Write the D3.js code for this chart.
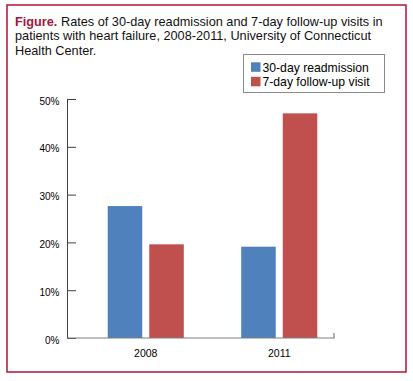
<!DOCTYPE html>
<html>
<head>
<meta charset="utf-8">
<script src="https://cdn.jsdelivr.net/npm/d3@7"></script>
<style>
  html, body { margin: 0; padding: 0; background: #fff; }
  svg { display: block; }
</style>
</head>
<body>
<svg id="chart" width="413" height="381"></svg>
<script>
// ---- data ----
const years = ["2008", "2011"];
const seriesNames = ["30-day readmission", "7-day follow-up visit"];
const readmission = [0.276, 0.191];
const followUp = [0.196, 0.470];
const yTicks = [0, 0.1, 0.2, 0.3, 0.4, 0.5];
const titleLead = "Figure.";
const titleLines = [
  " Rates of 30-day readmission and 7-day follow-up visits in",
  "patients with heart failure, 2008-2011, University of Connecticut",
  "Health Center."
];

// ---- layout ----
const colors = ["#4f81bd", "#c0504d"];
const axisLeft = 67, axisRight = 334, yTop = 99, yBottom = 338;

const svg = d3.select("#chart");

// frame
svg.append("rect")
  .attr("x", 7).attr("y", 5).attr("width", 399).attr("height", 367)
  .attr("fill", "#fff").attr("stroke", "#b3243f").attr("stroke-width", 1.6);

// title
const titleFont = "'Liberation Sans', Arial, sans-serif";
const title = svg.append("g").attr("font-family", titleFont).attr("fill", "#111");
const t1 = title.append("text").attr("x", 15).attr("y", 26).attr("font-size", 13);
t1.append("tspan").attr("fill", "#a3173d").attr("font-weight", 600).text(titleLead);
t1.append("tspan").text(titleLines[0]);
title.append("text").attr("x", 15).attr("y", 40.3).attr("font-size", 13).text(titleLines[1]);
title.append("text").attr("x", 15).attr("y", 54.6).attr("font-size", 13).text(titleLines[2]);
// fit font-size so first line spans the reference width
const measured = t1.node().getComputedTextLength();
const fs = Math.min(13, 13 * 368 / measured);
title.selectAll("text").attr("font-size", fs);

// scales
const x0 = d3.scaleBand().domain(years).range([79, 346]).paddingInner(0.43).paddingOuter(0.215);
const x1 = d3.scaleBand().domain(seriesNames).range([0, x0.bandwidth()]).paddingInner(0.169);
const y = d3.scaleLinear().domain([0, 0.5]).range([yBottom, yTop]);

const table = years.map((yr, i) => ({ year: yr, values: [readmission[i], followUp[i]] }));

// bars
const groups = svg.append("g").selectAll("g").data(table).join("g")
  .attr("transform", d => `translate(${x0(d.year)},0)`);
groups.selectAll("rect")
  .data(d => d.values.map((v, k) => ({ key: seriesNames[k], v, k })))
  .join("rect")
  .attr("x", d => x1(d.key))
  .attr("width", x1.bandwidth())
  .attr("y", d => y(d.v))
  .attr("height", d => y(0) - y(d.v))
  .attr("fill", d => colors[d.k]);

// y axis
const yAxis = d3.axisLeft(y).tickValues(yTicks).tickFormat(d3.format(".0%"))
  .tickSizeInner(-9).tickSizeOuter(0).tickPadding(7.5);
const gy = svg.append("g").attr("transform", `translate(${axisLeft},0)`).call(yAxis);
gy.select(".domain").attr("stroke", "#404040");
gy.selectAll(".tick line").attr("stroke", "#404040");
gy.selectAll(".tick text")
  .attr("font-family", "'Liberation Sans', Arial, sans-serif")
  .attr("font-size", 10).attr("fill", "#000").attr("dy", "0.5em");

// x axis line (gray, with small end tick)
svg.append("path")
  .attr("d", `M${axisLeft},${y(0)}H${axisRight}V${y(0) - 5}`)
  .attr("fill", "none").attr("stroke", "#7f7f7f").attr("stroke-width", 1.2);

// x labels
svg.append("g").selectAll("text").data(years).join("text")
  .attr("x", d => x0(d) + x0.bandwidth() / 2)
  .attr("y", 356.7)
  .attr("text-anchor", "middle")
  .attr("font-family", "'Liberation Sans', Arial, sans-serif")
  .attr("font-size", 10.5).attr("fill", "#000")
  .text(d => d);

// legend
const lg = svg.append("g");
lg.append("rect").attr("x", 243.5).attr("y", 54.5).attr("width", 141).attr("height", 38)
  .attr("fill", "#fff").attr("stroke", "#8a8a8a").attr("stroke-width", 1);
const items = lg.selectAll("g.item").data(seriesNames).join("g").attr("class", "item")
  .attr("transform", (d, i) => `translate(251,${62.3 + i * 14.5})`);
items.append("rect").attr("width", 9.5).attr("height", 9.5).attr("fill", (d, i) => colors[i]);
items.append("text").attr("x", 11.5).attr("y", 9.4)
  .attr("font-family", "'Liberation Sans', Arial, sans-serif")
  .attr("font-size", 12.2).attr("fill", "#000").text(d => d);
</script>
</body>
</html>
